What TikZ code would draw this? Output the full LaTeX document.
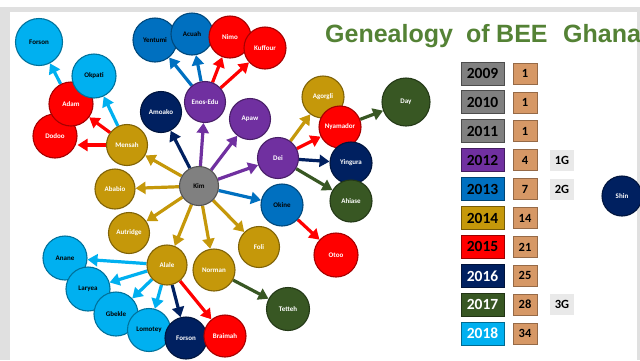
\documentclass[tikz,border=0pt]{standalone}
\usepackage{fontspec}
\setmainfont{Carlito}
\newfontfamily\titlefont{Liberation Sans}
\usetikzlibrary{arrows.meta}
\definecolor{cgold}{RGB}{197,152,10}
\definecolor{cred}{RGB}{255,0,0}
\definecolor{cpurple}{RGB}{112,48,160}
\definecolor{cblue}{RGB}{0,112,192}
\definecolor{cnavy}{RGB}{0,32,96}
\definecolor{cgreen}{RGB}{56,87,35}
\definecolor{clight}{RGB}{0,176,240}
\definecolor{cgray}{RGB}{128,128,128}
\definecolor{ctitle}{RGB}{84,130,53}
\definecolor{cwood}{RGB}{214,152,102}
\definecolor{cframe}{RGB}{224,224,224}
\definecolor{cmarble}{RGB}{233,233,233}
\pgfdeclarelayer{bg}
\pgfdeclarelayer{edges}
\pgfsetlayers{bg,edges,main}
\tikzset{
  person/.style={circle, inner sep=0pt, minimum size=42pt, line width=1.1pt,
    font=\fontsize{7}{8}\selectfont\bfseries},
  pgold/.style={person, fill=cgold, draw=cgold!65!black, text=white},
  pred/.style={person, fill=cred, draw=cred!65!black, text=white},
  ppurple/.style={person, fill=cpurple, draw=cpurple!65!black, text=white},
  pblue/.style={person, fill=cblue, draw=cblue!65!black, text=black},
  pnavy/.style={person, fill=cnavy, draw=cnavy!65!black, text=white},
  pgreen/.style={person, fill=cgreen, draw=cgreen!65!black, text=white},
  plight/.style={person, fill=clight, draw=clight!65!black, text=black},
  pgray/.style={person, fill=cgray, draw=cgray!65!black, text=black},
  rel/.style={line width=3.2pt, draw=#1, -{Triangle[length=10pt,width=12pt]}},
  yearbox/.style={rectangle, inner sep=0pt, minimum width=43pt, minimum height=23pt,
    line width=1pt, font=\fontsize{15.5}{17}\selectfont\bfseries},
  countbox/.style={rectangle, inner sep=0pt, minimum width=24pt, minimum height=21pt,
    fill=cwood, draw=cwood!70!black, line width=0.8pt, font=\fontsize{12.5}{14}\selectfont\bfseries},
  genbox/.style={rectangle, inner sep=0pt, minimum width=24pt, minimum height=21pt,
    fill=cmarble, font=\fontsize{12.5}{14}\selectfont\bfseries},
  titleword/.style={anchor=base west, inner sep=0pt, text=ctitle,
    font=\titlefont\fontsize{25}{28}\selectfont\bfseries}
}
\begin{document}
\begin{tikzpicture}[x=1pt,y=-1pt]
\path[use as bounding box] (0,0) rectangle (640,360);
\clip (0,0) rectangle (640,360);
\begin{pgfonlayer}{bg}
  \fill[white] (0,0) rectangle (640,360);
  \fill[cframe] (0,7) rectangle (640,360);
  \fill[white] (10,12) rectangle (637,360);
\end{pgfonlayer}

% title
\node[titleword] (t1) at (325,42) {Genealogy};
\node[titleword] (t2) at (466,42) {of};
\node[titleword] (t3) at (496,42) {BEE};
\node[titleword] (t4) at (563,42) {Ghana};

% people
\node[plight, minimum size=47pt] (forsonA) at (39,42) {Forson};
\node[pred, minimum size=44pt] (dodoo) at (55,136) {Dodoo};
\node[pred, minimum size=44pt] (adam) at (71,104) {Adam};
\node[plight, minimum size=44pt] (okpati) at (94,76) {Okpati};
\node[pgold, minimum size=41pt] (mensah) at (127,145) {Mensah};
\node[pblue, minimum size=44pt] (yentumi) at (155,40) {Yentumi};
\node[pblue] (acuah) at (192,34) {Acuah};
\node[pred] (nimo) at (230,37) {Nimo};
\node[pred] (kuffour) at (265,48) {Kuffour};
\node[ppurple, minimum size=41pt] (enos) at (205,102) {Enos-Edu};
\node[pnavy, minimum size=41pt] (amoako) at (161,112) {Amoako};
\node[ppurple, minimum size=41pt] (apaw) at (250,119) {Apaw};
\node[ppurple, minimum size=41pt] (dei) at (278,158) {Dei};
\node[pgold] (agorgli) at (323,97) {Agorgli};
\node[pred] (nyamador) at (340,127) {Nyamador};
\node[pgreen, minimum size=48pt] (day) at (406,102) {Day};
\node[pnavy] (yingura) at (351,163) {Yingura};
\node[pgreen] (ahiase) at (351,201) {Ahiase};
\node[pgray, minimum size=39pt] (kim) at (199,186) {Kim};
\node[pblue] (okine) at (282,205) {Okine};
\node[pred, minimum size=44pt] (otoo) at (336,255) {Otoo};
\node[pgold, minimum size=41pt] (foli) at (259,247) {Foli};
\node[pgold] (norman) at (214,270) {Norman};
\node[pgreen, minimum size=43pt] (tetteh) at (288,309) {Tetteh};
\node[pgold, minimum size=40pt] (ababio) at (115,189) {Ababio};
\node[pgold, minimum size=41pt] (autridge) at (129,233) {Autridge};
\node[pgold, minimum size=40pt] (alale) at (167,265) {Alale};
\node[plight, minimum size=44pt] (anane) at (65,258) {Anane};
\node[plight, minimum size=44pt] (laryea) at (88,289) {Laryea};
\node[plight, minimum size=44pt] (gbekle) at (116,314) {Gbekle};
\node[plight, minimum size=43pt] (lomotey) at (149,330) {Lomotey};
\node[pnavy] (forsonB) at (186,338) {Forson};
\node[pred] (braimah) at (225,336) {Braimah};
\node[pnavy, minimum size=40pt] (shin) at (622,196) {Shin};

% connectors
\begin{pgfonlayer}{edges}
  \draw[rel=cgold] (kim) -- (mensah);
  \draw[rel=cgold] (kim) -- (ababio);
  \draw[rel=cgold] (kim) -- (autridge);
  \draw[rel=cgold] (kim) -- (alale);
  \draw[rel=cgold] (kim) -- (norman);
  \draw[rel=cgold] (kim) -- (foli);
  \draw[rel=cblue] (kim) -- (okine);
  \draw[rel=cpurple] (kim) -- (dei);
  \draw[rel=cpurple] (kim) -- (apaw);
  \draw[rel=cpurple] (kim) -- (enos);
  \draw[rel=cnavy] (kim) -- (amoako);
  \draw[rel=cred] (mensah) -- (adam);
  \draw[rel=cred] (mensah.west) -- (dodoo.east |- mensah.west);
  \draw[rel=clight] (mensah) -- (okpati);
  \draw[rel=clight] (adam) -- (forsonA);
  \draw[rel=cblue] (enos) -- (yentumi);
  \draw[rel=cblue] (enos) -- (acuah);
  \draw[rel=cred] (enos) -- (nimo);
  \draw[rel=cred] (enos) -- (kuffour);
  \draw[rel=cgold] (dei) -- (agorgli);
  \draw[rel=cred] (dei) -- (nyamador);
  \draw[rel=cnavy] (dei) -- (yingura);
  \draw[rel=cgreen] (dei) -- (ahiase);
  \draw[rel=cgreen] (nyamador) -- (day);
  \draw[rel=cred] (okine) -- (otoo);
  \draw[rel=cgreen] (norman) -- (tetteh);
  \draw[rel=clight] (alale) -- (anane);
  \draw[rel=clight] (alale) -- (laryea);
  \draw[rel=clight] (alale) -- (gbekle);
  \draw[rel=clight] (alale) -- (lomotey);
  \draw[rel=cnavy] (alale) -- (forsonB);
  \draw[rel=cred] (alale) -- (braimah);
\end{pgfonlayer}

% legend
\foreach \yr/\col/\cnt/\tc [count=\i from 0] in
  {2009/cgray/1/black, 2010/cgray/1/black, 2011/cgray/1/black,
   2012/cpurple/4/black, 2013/cblue/7/black, 2014/cgold/14/black,
   2015/cred/21/black, 2016/cnavy/25/white, 2017/cgreen/28/white,
   2018/clight/34/white}{
  \node[yearbox, fill=\col, draw=\col!60!black, text=\tc] (y\yr) at (482.5,{73.5+28.9*\i}) {\yr};
  \node[countbox] (c\yr) at (525,{73.5+28.9*\i}) {\cnt};
}
\node[genbox] (g1) at ([xshift=37pt]c2012.center) {1G};
\node[genbox] (g2) at ([xshift=37pt]c2013.center) {2G};
\node[genbox] (g3) at ([xshift=37pt]c2017.center) {3G};
\end{tikzpicture}
\end{document}
